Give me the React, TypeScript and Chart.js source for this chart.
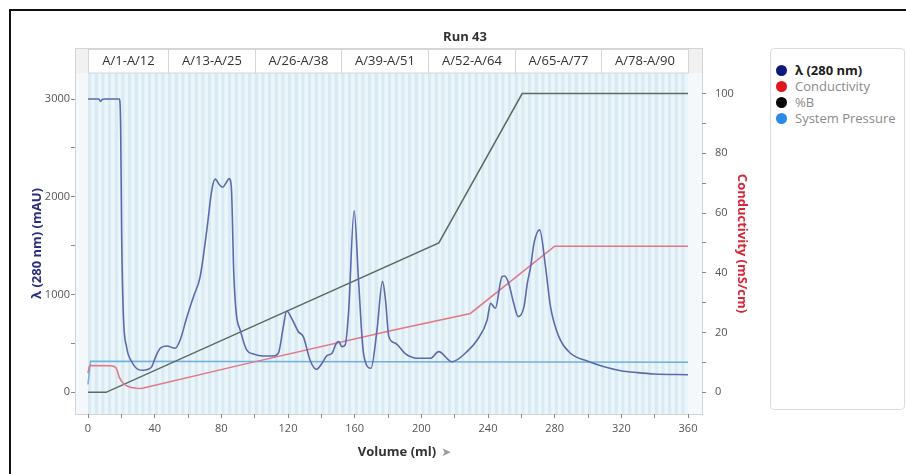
import React, { useEffect, useRef } from 'react';
import { Chart, registerables } from 'chart.js';

Chart.register(...registerables);

// ---------- data ----------
const chartTitle = 'Run 43';
const seriesNames = ['λ (280 nm)', 'Conductivity', '%B', 'System Pressure'];
const legendDotColors = ['#0b1a7c', '#e3141e', '#050505', '#2a8be6'];

const absVolume = [0, 6.5, 7.5, 8.5, 9.5, 18.8, 19.6, 20.2, 21.2, 23.2, 26, 30, 33, 36, 38.3, 40.5, 43.3, 47.3, 52.3, 55.3, 59, 63.3, 67.3, 71.3, 74.3, 76.3, 79, 80.9, 82.8, 84.7, 86, 87.5, 89, 91.3, 95.2, 99.2, 105.2, 111.2, 114.2, 117.2, 119.2, 122.2, 126.2, 129.2, 133.2, 137, 140.4, 143.4, 146.4, 149, 150.4, 152.3, 154.3, 156.3, 159.7, 162.3, 165.3, 169.8, 173.4, 176.7, 178.5, 180.5, 184.5, 190.5, 197.5, 205.5, 210.4, 218.4, 227.4, 233.5, 239.5, 241.5, 244.4, 248.4, 250, 252.4, 255.4, 258.1, 261.6, 263.6, 265.6, 267.6, 271, 274.5, 277.5, 282.5, 289.5, 299.5, 309.7, 319.7, 329.7, 339.7, 360];
const absValue = [3000, 3000, 2975, 2995, 3000, 3000, 2700, 1600, 800, 460, 320, 235, 225, 235, 262, 360, 450, 474, 450, 535, 750, 978, 1183, 1661, 2071, 2180, 2120, 2098, 2140, 2186, 2100, 1200, 800, 638, 433, 392, 372, 372, 399, 671, 832, 757, 620, 569, 331, 235, 297, 375, 399, 502, 518, 467, 484, 808, 1859, 1150, 399, 246, 638, 1135, 945, 569, 502, 392, 348, 348, 416, 313, 416, 535, 740, 911, 860, 1183, 1190, 1116, 911, 774, 876, 1116, 1286, 1525, 1661, 1286, 876, 569, 399, 320, 262, 221, 201, 187, 180];

const condVolume = [0, 0.7, 1.5, 13, 15.5, 16.8, 17.8, 18.8, 20, 21.5, 23.5, 26, 29, 32, 91.3, 181.5, 229.4, 280, 360];
const condValue = [6.4, 8.6, 9.0, 8.9, 8.7, 8.2, 6.8, 5.0, 3.8, 2.8, 2.1, 1.6, 1.35, 1.3, 9.1, 20.6, 26.4, 48.9, 48.9];

const pctBVolume = [0, 10.8, 210.5, 260.5, 360];
const pctBValue = [0, 0, 50, 100, 100];

const pressureVolume = [0, 1.5, 180, 360];
const pressureValue = [80, 318, 312, 307];

const xTicks = [0, 20, 40, 60, 80, 100, 120, 140, 160, 180, 200, 220, 240, 260, 280, 300, 320, 340, 360];
const xTickLabels = [0, 40, 80, 120, 160, 200, 240, 280, 320, 360];
const leftTicks = [0, 500, 1000, 1500, 2000, 2500, 3000];
const leftTickLabels = [0, 1000, 2000, 3000];
const rightTicks = [0, 10, 20, 30, 40, 50, 60, 70, 80, 90, 100];
const rightTickLabels = [0, 20, 40, 60, 80, 100];

const fractionGroupLabels = ['A/1-A/12', 'A/13-A/25', 'A/26-A/38', 'A/39-A/51', 'A/52-A/64', 'A/65-A/77', 'A/78-A/90'];
const fractionGroupStart = [0, 48, 100, 152, 204, 256, 308];
const fractionGroupEnd = [48, 100, 152, 204, 256, 308, 360];
const fractionCount = 90;
const fractionSize = 4;

const FONT = "'Open Sans', 'Noto Sans', sans-serif";

const pts = (xs: number[], ys: number[]) => xs.map((x, i) => ({ x, y: ys[i] }));

const runPlugin = {
  id: 'runDecor',
  beforeDraw(chart: any) {
    const { ctx, chartArea: ca, scales } = chart;
    const xs = scales.x;
    const headerTop = ca.top - 25;
    ctx.save();
    // plot background
    ctx.fillStyle = '#f4f8fa';
    ctx.fillRect(ca.left, ca.top, ca.right - ca.left, ca.bottom - ca.top);
    // fraction stripes
    for (let i = 0; i < fractionCount; i++) {
      const a = xs.getPixelForValue(i * fractionSize);
      const m = xs.getPixelForValue(i * fractionSize + fractionSize / 2);
      const b = xs.getPixelForValue((i + 1) * fractionSize);
      ctx.fillStyle = '#d8eaf4';
      ctx.fillRect(a, ca.top, m - a, ca.bottom - ca.top);
      ctx.fillStyle = '#ecf5fa';
      ctx.fillRect(m, ca.top, b - m, ca.bottom - ca.top);
    }
    // header band
    ctx.fillStyle = '#f1f1f1';
    ctx.fillRect(ca.left, headerTop, ca.right - ca.left, ca.top - headerTop);
    ctx.font = `13px ${FONT}`;
    ctx.textAlign = 'center';
    ctx.textBaseline = 'middle';
    fractionGroupLabels.forEach((lab, i) => {
      const a = Math.round(xs.getPixelForValue(fractionGroupStart[i])) + 0.5;
      const b = Math.round(xs.getPixelForValue(fractionGroupEnd[i])) + 0.5;
      ctx.fillStyle = '#ffffff';
      ctx.fillRect(a, headerTop + 1, b - a, ca.top - headerTop - 1);
      ctx.strokeStyle = '#d6d6d6';
      ctx.lineWidth = 1;
      ctx.strokeRect(a, headerTop + 1.5, b - a, ca.top - headerTop - 1.5);
      ctx.fillStyle = '#333333';
      ctx.fillText(lab, (a + b) / 2, (headerTop + ca.top) / 2 + 1);
    });
    // frame
    ctx.strokeStyle = '#d4d4d4';
    ctx.lineWidth = 1;
    ctx.strokeRect(Math.round(ca.left) + 0.5, headerTop + 0.5, Math.round(ca.right - ca.left), Math.round(ca.bottom - headerTop));
    // title
    ctx.fillStyle = '#333333';
    ctx.font = `bold 13px ${FONT}`;
    ctx.fillText(chartTitle, 465, 37);
    ctx.restore();
  },
  afterDraw(chart: any) {
    const { ctx } = chart;
    ctx.save();
    ctx.font = `bold 13px ${FONT}`;
    ctx.textBaseline = 'middle';
    ctx.textAlign = 'center';
    ctx.fillStyle = '#333333';
    const t = 'Volume (ml)';
    const cx = 397;
    ctx.fillText(t, cx, 452.5);
    const w = ctx.measureText(t).width;
    ctx.fillStyle = '#9a9a9a';
    ctx.font = `12px 'DejaVu Sans', sans-serif`;
    ctx.textAlign = 'left';
    ctx.fillText('➤', cx + w / 2 + 5, 452.5);
    ctx.restore();
  },
};

const tickFont = { family: FONT, size: 11 };
const gridOpts = { drawOnChartArea: false, drawTicks: true, tickLength: 4, color: '#8a8a8a', tickColor: '#8a8a8a' };

export default function App() {
  const ref = useRef<HTMLCanvasElement>(null);
  useEffect(() => {
    const canvas = ref.current;
    if (!canvas) return;
    const chart = new Chart(canvas, {
      type: 'line',
      data: {
        datasets: [
          {
            label: seriesNames[0],
            data: pts(absVolume, absValue),
            borderColor: '#5c6aab',
            borderWidth: 1.6,
            pointRadius: 0,
            cubicInterpolationMode: 'monotone',
            yAxisID: 'y',
          },
          {
            label: seriesNames[1],
            data: pts(condVolume, condValue),
            borderColor: '#e27785',
            borderWidth: 1.5,
            pointRadius: 0,
            tension: 0,
            yAxisID: 'y1',
          },
          {
            label: seriesNames[2],
            data: pts(pctBVolume, pctBValue),
            borderColor: '#5c6a60',
            borderWidth: 1.5,
            pointRadius: 0,
            tension: 0,
            yAxisID: 'y1',
          },
          {
            label: seriesNames[3],
            data: pts(pressureVolume, pressureValue),
            borderColor: '#6cb2de',
            borderWidth: 1.5,
            pointRadius: 0,
            tension: 0,
            yAxisID: 'y',
          },
        ],
      },
      options: {
        animation: false,
        responsive: false,
        devicePixelRatio: 1,
        layout: { padding: { left: 29, right: 156, top: 73, bottom: 14 } },
        plugins: {
          legend: { display: false },
          tooltip: { enabled: false },
          title: { display: false },
        },
        scales: {
          x: {
            type: 'linear',
            min: -7.8,
            max: 368.4,
            afterBuildTicks: (s: any) => { s.ticks = xTicks.map((v) => ({ value: v })); },
            afterFit: (s: any) => { s.height = 46; },
            ticks: {
              autoSkip: false,
              maxRotation: 0,
              padding: 4,
              color: '#555555',
              font: tickFont,
              callback: (v: any) => (xTickLabels.includes(Number(v)) ? String(v) : ''),
            },
            grid: gridOpts,
            border: { display: false },
          },
          y: {
            type: 'linear',
            position: 'left',
            min: -222,
            max: 3266,
            afterBuildTicks: (s: any) => { s.ticks = leftTicks.map((v) => ({ value: v })); },
            afterFit: (s: any) => { s.width = 46; },
            ticks: {
              padding: 1,
              color: '#555555',
              font: tickFont,
              callback: (v: any) => (leftTickLabels.includes(Number(v)) ? String(v) : ''),
            },
            grid: gridOpts,
            border: { display: false },
            title: {
              display: true,
              text: 'λ (280 nm) (mAU)',
              color: '#2c2f80',
              font: { family: FONT, size: 13, weight: 'bold' },
              padding: 0,
            },
          },
          y1: {
            type: 'linear',
            position: 'right',
            min: -7.26,
            max: 106.9,
            afterBuildTicks: (s: any) => { s.ticks = rightTicks.map((v) => ({ value: v })); },
            afterFit: (s: any) => { s.width = 48; },
            ticks: {
              padding: 9,
              color: '#555555',
              font: tickFont,
              callback: (v: any) => (rightTickLabels.includes(Number(v)) ? String(v) : ''),
            },
            grid: gridOpts,
            border: { display: false },
            title: {
              display: true,
              text: 'Conductivity (mS/cm)',
              color: '#d6263a',
              font: { family: FONT, size: 13, weight: 'bold' },
              padding: 0,
            },
          },
        },
      } as any,
      plugins: [runPlugin],
    });
    return () => chart.destroy();
  }, []);

  return (
    <div style={{ position: 'fixed', left: 0, top: 0, width: 906, height: 474, overflow: 'hidden', background: '#ffffff' }}>
      <div
        style={{
          position: 'absolute', left: 9, top: 9, width: 1000, height: 1000,
          borderLeft: '2px solid #111', borderTop: '2px solid #111',
        }}
      />
      <canvas ref={ref} width={906} height={474} style={{ position: 'absolute', left: 0, top: 0, width: 906, height: 474 }} />
      <div
        style={{
          position: 'absolute', left: 770, top: 48, width: 135, height: 362, boxSizing: 'border-box',
          border: '1px solid #dcdcdc', borderRadius: 4, background: '#fff',
          paddingTop: 13, paddingLeft: 5, fontFamily: FONT, fontSize: 13,
        }}
      >
        {seriesNames.map((n, i) => (
          <div key={n} style={{ display: 'flex', alignItems: 'center', height: 16, lineHeight: '16px', whiteSpace: 'nowrap' }}>
            <span style={{ display: 'inline-block', width: 11, height: 11, borderRadius: '50%', background: legendDotColors[i], marginRight: 8, flexShrink: 0 }} />
            <span style={{ color: i === 0 ? '#1e1e1e' : '#8a8a8a', fontWeight: i === 0 ? 700 : 400 }}>{n}</span>
          </div>
        ))}
      </div>
    </div>
  );
}
